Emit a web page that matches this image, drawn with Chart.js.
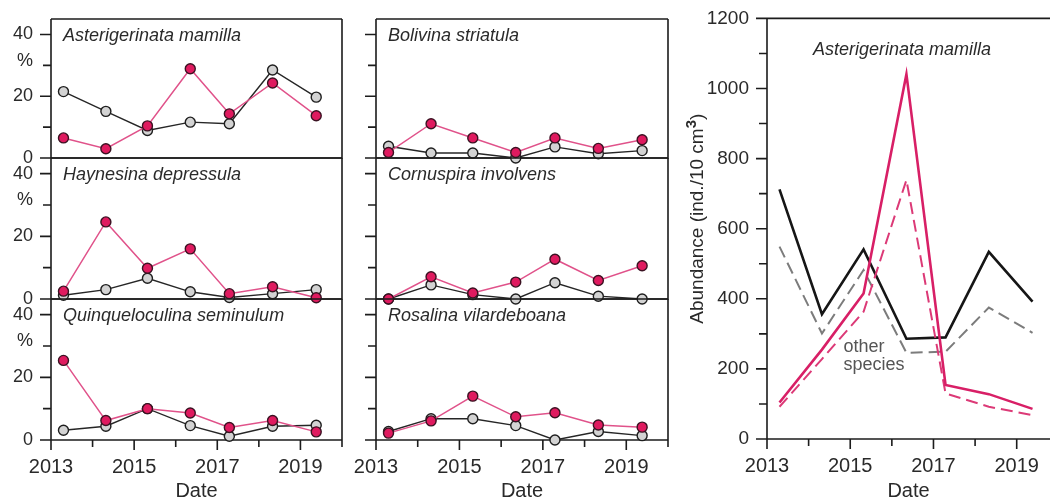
<!DOCTYPE html>
<html>
<head>
<meta charset="utf-8">
<script src="https://cdn.jsdelivr.net/npm/chart.js@4.4.1/dist/chart.umd.min.js"></script>
<style>
  html, body { margin: 0; padding: 0; background: #fff; }
  #wrap { position: relative; width: 1050px; height: 497px; overflow: hidden; background: #fff; }
  #wrap canvas { position: absolute; left: 0; top: 0; }
</style>
</head>
<body>
<div id="wrap">
  <canvas id="cMamilla" width="1050" height="497"></canvas>
  <canvas id="cHaynesina" width="1050" height="497"></canvas>
  <canvas id="cQuinq" width="1050" height="497"></canvas>
  <canvas id="cBolivina" width="1050" height="497"></canvas>
  <canvas id="cCornuspira" width="1050" height="497"></canvas>
  <canvas id="cRosalina" width="1050" height="497"></canvas>
  <canvas id="cAbundance" width="1050" height="497"></canvas>
</div>
<script>
// Sampling dates as decimal years
const sampleDates = [2013.3, 2014.32, 2015.32, 2016.35, 2017.29, 2018.33, 2019.38];

// Relative abundance (%) per species: grey circles and pink circles
const mamillaGrey     = [21.5, 15.1, 8.9, 11.6, 11.1, 28.5, 19.7];
const mamillaPink     = [6.5, 3.0, 10.4, 28.9, 14.3, 24.3, 13.7];
const bolivinaGrey    = [3.8, 1.6, 1.6, 0, 3.6, 1.4, 2.4];
const bolivinaPink    = [1.8, 11.1, 6.5, 1.8, 6.5, 3.1, 5.9];
const haynesinaGrey   = [1.2, 3.0, 6.6, 2.3, 0.5, 1.7, 3.0];
const haynesinaPink   = [2.5, 24.6, 9.8, 16.0, 1.7, 3.9, 0.4];
const cornuspiraGrey  = [0, 4.5, 1.4, 0, 5.2, 0.9, 0];
const cornuspiraPink  = [0, 7.1, 1.9, 5.4, 12.7, 5.9, 10.6];
const quinqGrey       = [3.1, 4.4, 10.0, 4.6, 1.2, 4.4, 4.7];
const quinqPink       = [25.4, 6.2, 10.0, 8.6, 4.0, 6.2, 2.6];
const rosalinaGrey    = [2.7, 6.8, 6.8, 4.6, 0, 2.7, 1.4];
const rosalinaPink    = [2.2, 6.1, 14.0, 7.4, 8.7, 4.8, 4.1];

// Absolute abundance (ind./10 cm3)
const otherSpeciesSolid   = [712, 356, 541, 286, 290, 534, 392];
const otherSpeciesDashed  = [549, 301, 482, 246, 249, 375, 303];
const mamillaSolid        = [104, 255, 415, 1041, 154, 128, 86];
const mamillaDashed       = [92, 228, 363, 739, 130, 92, 68];

// Tick values and their labels ('' = unlabelled minor tick)
const yearTicks          = [2013, 2014, 2015, 2016, 2017, 2018, 2019, 2020];
const yearTickLabels     = ['2013', '', '2015', '', '2017', '', '2019', ''];
const percentTicks       = [0, 10, 20, 30, 40];
const percentTickLabels  = ['0', '', '20', '', '40'];
const abundanceTicks     = [0, 100, 200, 300, 400, 500, 600, 700, 800, 900, 1000, 1100, 1200];
const abundanceTickLabels = ['0', '', '200', '', '400', '', '600', '', '800', '', '1000', '', '1200'];

const FAMILY = '"Liberation Sans", Arial, Helvetica, sans-serif';
const INK = '#1c1c1c';
const TEXT = '#2a2a2a';
const PINK_LINE = '#e0528a';
const PINK_FILL = '#df1a5f';
const PINK_EDGE = '#3b1222';
const W = 1050, H = 497;

const toPoints = vals => sampleDates.map((x, i) => ({ x, y: vals[i] }));

function greySeries(vals) {
  return {
    data: toPoints(vals), borderColor: '#262626', borderWidth: 1.4,
    pointRadius: 5, pointBackgroundColor: '#d3d3d3', pointBorderColor: '#1e1e1e',
    pointBorderWidth: 1.4, order: 2, clip: false, tension: 0
  };
}
function pinkSeries(vals) {
  return {
    data: toPoints(vals), borderColor: PINK_LINE, borderWidth: 1.5,
    pointRadius: 5, pointBackgroundColor: PINK_FILL, pointBorderColor: PINK_EDGE,
    pointBorderWidth: 1.4, order: 1, clip: false, tension: 0
  };
}

// Frame, tick marks and in-panel text
const decor = {
  id: 'decor',
  beforeDatasetsDraw(chart, args, o) {
    const { ctx, chartArea: a } = chart;
    const xs = chart.scales.x, ys = chart.scales.y;
    ctx.save();
    ctx.strokeStyle = INK;
    ctx.lineWidth = 1.6;
    ctx.beginPath();
    ctx.moveTo(a.left, a.top); ctx.lineTo(a.right, a.top);
    if (o.rightEdge) { ctx.moveTo(a.right, a.top); ctx.lineTo(a.right, a.bottom); }
    ctx.moveTo(a.left, a.top); ctx.lineTo(a.left, a.bottom);
    ctx.moveTo(a.left, a.bottom); ctx.lineTo(a.right + (o.rightEdge ? 0.8 : 0), a.bottom);
    o.yTicks.forEach((v, i) => {
      const y = ys.getPixelForValue(v);
      const len = o.yLabels[i] ? 11 : 8;
      ctx.moveTo(a.left - len, y); ctx.lineTo(a.left, y);
    });
    if (o.xTicks) {
      o.xTicks.forEach((v, i) => {
        const x = xs.getPixelForValue(v);
        if (x > W + 1) return;
        const len = o.xLabels[i] ? 10 : 7;
        ctx.moveTo(x, a.bottom); ctx.lineTo(x, a.bottom + len);
      });
    }
    ctx.stroke();
    ctx.restore();
  },
  afterDraw(chart, args, o) {
    const { ctx, chartArea: a } = chart;
    const ys = chart.scales.y;
    ctx.save();
    ctx.fillStyle = TEXT;
    if (o.title) {
      ctx.font = `italic 18px ${FAMILY}`;
      ctx.textAlign = 'left';
      ctx.textBaseline = 'middle';
      ctx.fillText(o.title, a.left + o.titleDx, a.top + o.titleDy);
    }
    if (o.percent) {
      ctx.font = `18px ${FAMILY}`;
      ctx.textAlign = 'right';
      ctx.textBaseline = 'middle';
      ctx.fillText('%', a.left - 18, ys.getPixelForValue(31.5));
    }
    if (o.dateLabel) {
      ctx.font = `20px ${FAMILY}`;
      ctx.textAlign = 'center';
      ctx.textBaseline = 'alphabetic';
      ctx.fillText('Date', (a.left + Math.min(a.right, W)) / 2, H);
    }
    if (o.notes) {
      ctx.font = `18px ${FAMILY}`;
      ctx.fillStyle = '#555';
      ctx.textAlign = 'left';
      ctx.textBaseline = 'middle';
      o.notes.forEach(n => ctx.fillText(n.text, chart.scales.x.getPixelForValue(n.x), ys.getPixelForValue(n.y)));
    }
    if (o.yTitle) {
      // rotated axis title with a raised exponent
      ctx.fillStyle = TEXT;
      ctx.translate(a.left - 69, (a.top + a.bottom) / 2 - 10);
      ctx.rotate(-Math.PI / 2);
      ctx.textBaseline = 'middle';
      ctx.textAlign = 'left';
      const main = o.yTitle.main, sup = o.yTitle.sup, tail = o.yTitle.tail;
      ctx.font = `19px ${FAMILY}`;
      const wMain = ctx.measureText(main).width;
      const wTail = ctx.measureText(tail).width;
      ctx.font = `bold 15px ${FAMILY}`;
      const wSup = ctx.measureText(sup).width;
      let x = -(wMain + wSup + wTail) / 2;
      ctx.font = `19px ${FAMILY}`;
      ctx.fillText(main, x, 0);
      x += wMain;
      ctx.font = `bold 15px ${FAMILY}`;
      ctx.fillText(sup, x, -6);
      x += wSup;
      ctx.font = `19px ${FAMILY}`;
      ctx.fillText(tail, x, 0);
    }
    ctx.restore();
  }
};

function baseScales(cfg) {
  const labelFor = (vals, labels) => v => { const i = vals.indexOf(v); return i < 0 ? '' : labels[i]; };
  const hiddenGrid = { display: true, drawOnChartArea: false, drawTicks: true, tickLength: 10, color: 'rgba(0,0,0,0)' };
  return {
    x: {
      type: 'linear', min: cfg.xMin, max: cfg.xMax, display: cfg.showX,
      afterBuildTicks: s => { s.ticks = cfg.xTicks.map(v => ({ value: v })); },
      afterFit: s => { s.height = cfg.showX ? 40 : 0; },
      grid: hiddenGrid, border: { display: false },
      ticks: {
        autoSkip: false, maxRotation: 0, minRotation: 0, padding: 5,
        color: TEXT, font: { family: FAMILY, size: 20 },
        callback: labelFor(cfg.xTicks, cfg.xLabels)
      }
    },
    y: {
      type: 'linear', min: cfg.yMin, max: cfg.yMax,
      afterBuildTicks: s => { s.ticks = cfg.yTicks.map(v => ({ value: v })); },
      afterFit: s => { s.width = cfg.yWidth; },
      grid: Object.assign({}, hiddenGrid, { tickLength: 11 }), border: { display: false },
      ticks: {
        autoSkip: false, padding: 7,
        color: TEXT, font: { family: FAMILY, size: cfg.yFont },
        callback: cfg.showYLabels ? labelFor(cfg.yTicks, cfg.yLabels) : () => ''
      }
    }
  };
}

function makeChart(id, area, datasets, cfg, decorOpts) {
  const hx = cfg.showX ? 40 : 0;
  return new Chart(document.getElementById(id), {
    type: 'line',
    data: { datasets },
    options: {
      responsive: false, animation: false, devicePixelRatio: 1,
      events: [],
      layout: { padding: { left: area.l - cfg.yWidth, top: area.t, right: W - area.r, bottom: H - area.b - hx } },
      plugins: { legend: { display: false }, tooltip: { enabled: false }, decor: decorOpts },
      scales: baseScales(cfg)
    },
    plugins: [decor]
  });
}

// Small-multiple percentage panels
const leftCol = { l: 51, r: 342 }, midCol = { l: 376, r: 668 };
const rows = [{ t: 19, b: 158 }, { t: 158, b: 299 }, { t: 299, b: 440 }];

const panels = [
  { id: 'cMamilla',    col: leftCol, row: 0, title: 'Asterigerinata mamilla',   grey: mamillaGrey,    pink: mamillaPink,    labels: true },
  { id: 'cHaynesina',  col: leftCol, row: 1, title: 'Haynesina depressula',     grey: haynesinaGrey,  pink: haynesinaPink,  labels: true },
  { id: 'cQuinq',      col: leftCol, row: 2, title: 'Quinqueloculina seminulum', grey: quinqGrey,     pink: quinqPink,      labels: true },
  { id: 'cBolivina',   col: midCol,  row: 0, title: 'Bolivina striatula',       grey: bolivinaGrey,   pink: bolivinaPink,   labels: false },
  { id: 'cCornuspira', col: midCol,  row: 1, title: 'Cornuspira involvens',     grey: cornuspiraGrey, pink: cornuspiraPink, labels: false },
  { id: 'cRosalina',   col: midCol,  row: 2, title: 'Rosalina vilardeboana',    grey: rosalinaGrey,   pink: rosalinaPink,   labels: false }
];

panels.forEach(p => {
  const area = { l: p.col.l, r: p.col.r, t: rows[p.row].t, b: rows[p.row].b };
  const bottom = p.row === 2;
  const cfg = {
    xMin: 2013, xMax: 2020, xTicks: yearTicks, xLabels: yearTickLabels, showX: bottom,
    yMin: 0, yMax: 45, yTicks: percentTicks, yLabels: percentTickLabels,
    yWidth: 50, yFont: 18, showYLabels: p.labels
  };
  makeChart(p.id, area, [greySeries(p.grey), pinkSeries(p.pink)], cfg, {
    rightEdge: true,
    yTicks: percentTicks, yLabels: percentTickLabels,
    xTicks: bottom ? yearTicks : null, xLabels: yearTickLabels,
    title: p.title, titleDx: 12, titleDy: 17,
    percent: p.labels, dateLabel: bottom
  });
});

// Absolute abundance chart
const rightYears = yearTicks.filter(v => v <= 2019);
const rightYearLabels = yearTickLabels.slice(0, rightYears.length);
makeChart('cAbundance', { l: 767, r: 1050, t: 18, b: 439 }, [
  { data: toPoints(otherSpeciesSolid),  borderColor: '#161616', borderWidth: 2.6, pointRadius: 0, tension: 0, order: 4 },
  { data: toPoints(otherSpeciesDashed), borderColor: '#7c7c7c', borderWidth: 2, borderDash: [12, 6], pointRadius: 0, tension: 0, order: 3 },
  { data: toPoints(mamillaDashed),      borderColor: '#dc3a77', borderWidth: 2, borderDash: [12, 6], pointRadius: 0, tension: 0, order: 2 },
  { data: toPoints(mamillaSolid),       borderColor: '#d81f66', borderWidth: 2.6, pointRadius: 0, tension: 0, order: 1 }
], {
  xMin: 2013, xMax: 2019.8, xTicks: rightYears, xLabels: rightYearLabels, showX: true,
  yMin: 0, yMax: 1200, yTicks: abundanceTicks, yLabels: abundanceTickLabels,
  yWidth: 80, yFont: 19, showYLabels: true
}, {
  rightEdge: false,
  yTicks: abundanceTicks, yLabels: abundanceTickLabels,
  xTicks: rightYears, xLabels: rightYearLabels,
  title: 'Asterigerinata mamilla', titleDx: 46, titleDy: 32,
  percent: false, dateLabel: true,
  notes: [{ text: 'other', x: 2014.84, y: 263 }, { text: 'species', x: 2014.84, y: 210 }],
  yTitle: { main: 'Abundance (ind./10 cm', sup: '3', tail: ')' }
});
</script>
</body>
</html>
